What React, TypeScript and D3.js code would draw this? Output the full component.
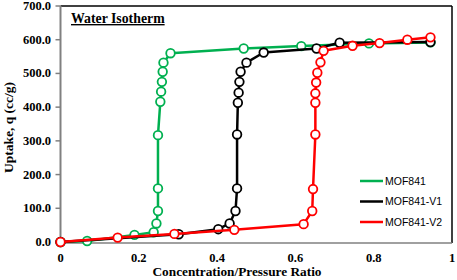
import React from "react";
import * as d3 from "d3";

const xTicks = [0, 0.2, 0.4, 0.6, 0.8, 1];
const xTickLabels = ["0", "0.2", "0.4", "0.6", "0.8", "1"];
const yTicks = [0, 100, 200, 300, 400, 500, 600, 700];

const mof841X = [0, 0.068, 0.189, 0.238, 0.245, 0.249, 0.249, 0.249, 0.255, 0.257, 0.259, 0.261, 0.263, 0.281, 0.468, 0.615, 0.788, 0.945];
const mof841Y = [0, 3, 21, 29, 55, 92, 159, 317, 416, 446, 475, 505, 532, 560, 574, 581, 589, 592];

const v1X = [0, 0.302, 0.403, 0.432, 0.447, 0.451, 0.451, 0.453, 0.455, 0.457, 0.46, 0.475, 0.519, 0.654, 0.713, 0.945];
const v1Y = [0, 23, 38, 55, 92, 159, 319, 413, 443, 475, 505, 532, 562, 574, 591, 593];

const v2X = [0, 0.146, 0.291, 0.444, 0.621, 0.643, 0.645, 0.651, 0.651, 0.651, 0.653, 0.656, 0.664, 0.672, 0.746, 0.815, 0.886, 0.945];
const v2Y = [0, 13, 24, 36, 53, 92, 157, 319, 413, 441, 473, 502, 533, 567, 582, 590, 600, 607];

const seriesNames = ["MOF841", "MOF841-V1", "MOF841-V2"];
const seriesColors = ["#00B050", "#000000", "#FF0000"];

export default function App() {
  const W = 457, H = 280;
  const x = d3.scaleLinear().domain([0, 1]).range([60.5, 452]);
  const y = d3.scaleLinear().domain([0, 700]).range([242, 6]);
  const line = d3.line<[number, number]>().x(d => x(d[0])).y(d => y(d[1]));
  const series = [
    { xs: mof841X, ys: mof841Y },
    { xs: v1X, ys: v1Y },
    { xs: v2X, ys: v2Y },
  ].map((s, i) => ({
    pts: s.xs.map((v, j) => [v, s.ys[j]] as [number, number]),
    color: seriesColors[i],
    name: seriesNames[i],
  }));
  const serif = "'Liberation Serif', 'Times New Roman', serif";
  const sans = "'Liberation Sans', Arial, sans-serif";
  return (
    <svg width={W} height={H} style={{ position: "absolute", left: 0, top: 0, background: "#fff" }}>
      <rect x={0} y={0} width={W} height={H} fill="#fff" />
      <line x1={x(0)} x2={x(1)} y1={6} y2={6} stroke="#000" strokeWidth={1.5} />
      <line x1={x(1)} x2={x(1)} y1={6} y2={y(0) + 1} stroke="#000" strokeWidth={1.5} />
      <line x1={x(0)} x2={x(0)} y1={6} y2={y(0) + 1} stroke="#808080" strokeWidth={2} />
      <line x1={x(0)} x2={x(1)} y1={y(0) + 1} y2={y(0) + 1} stroke="#808080" strokeWidth={1.5} />
      {yTicks.map(t => (
        <g key={t}>
          <line x1={x(0) - 5} x2={x(0)} y1={y(t)} y2={y(t)} stroke="#808080" strokeWidth={1.5} />
          <text x={51} y={y(t) + 4} textAnchor="end" fontFamily={serif} fontWeight="bold" fontSize={12.5}>
            {t.toFixed(1)}
          </text>
        </g>
      ))}
      {xTicks.map((t, i) => (
        <text key={t} x={x(t)} y={262} textAnchor="middle" fontFamily={serif} fontWeight="bold" fontSize={12.5}>
          {xTickLabels[i]}
        </text>
      ))}
      <text x={237} y={276} textAnchor="middle" fontFamily={serif} fontWeight="bold" fontSize={13.3}>
        Concentration/Pressure Ratio
      </text>
      <text transform={`translate(12.5,127.5) rotate(-90)`} textAnchor="middle" fontFamily={serif} fontWeight="bold" fontSize={13.5}>
        Uptake, q (cc/g)
      </text>
      <text x={71} y={23} fontFamily={serif} fontWeight="bold" fontSize={13.8} textDecoration="underline">
        Water Isotherm
      </text>
      {series.map(s => (
        <g key={s.name}>
          <path d={line(s.pts) || ""} fill="none" stroke={s.color} strokeWidth={2.5} strokeLinejoin="round" />
          {s.pts.map((p, j) => (
            <circle key={j} cx={x(p[0])} cy={y(p[1])} r={4.3} fill="#fff" stroke={s.color} strokeWidth={1.8} />
          ))}
        </g>
      ))}
      {series.map((s, i) => (
        <g key={"lg" + s.name}>
          <line x1={360} x2={383} y1={181 + i * 20.5} y2={181 + i * 20.5} stroke={s.color} strokeWidth={2.5} />
          <text x={385} y={184.8 + i * 20.5} fontFamily={sans} fontSize={10.5}>
            {s.name}
          </text>
        </g>
      ))}
    </svg>
  );
}
